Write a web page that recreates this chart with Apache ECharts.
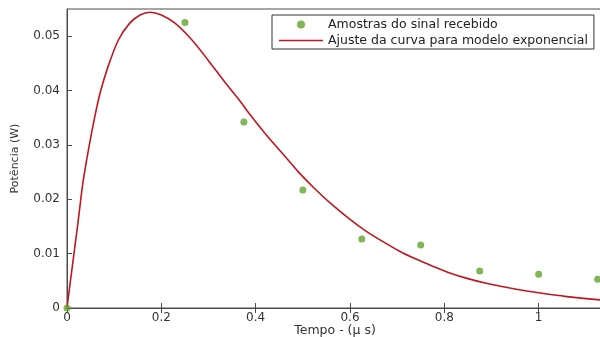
<!DOCTYPE html>
<html><head><meta charset="utf-8">
<script src="https://cdn.jsdelivr.net/npm/echarts@6/dist/echarts.min.js"></script>
<style>html,body{margin:0;padding:0;background:#fff;overflow:hidden}#c{width:640px;height:337px}</style>
</head><body><div id="c"></div>
<script>
// sample times (µs) and received powers (W)
var sampleT = [0, 0.25, 0.375, 0.5, 0.625, 0.75, 0.875, 1.0, 1.125];
var sampleP = [0, 0.0525, 0.0342, 0.0217, 0.0127, 0.0116, 0.0068, 0.0062, 0.0053];
// fitted curve
var fitT = [0, 0.007, 0.013, 0.023, 0.034, 0.048, 0.059, 0.07, 0.087, 0.109, 0.133, 0.155, 0.176, 0.2, 0.229, 0.265, 0.3, 0.336, 0.364, 0.385, 0.42, 0.456, 0.491, 0.527, 0.562, 0.6, 0.633, 0.67, 0.704, 0.74, 0.775, 0.81, 0.85, 0.896, 0.95, 1.0, 1.06, 1.13, 1.2];
var fitP = [0, 0.0048, 0.0088, 0.0155, 0.0232, 0.0303, 0.0352, 0.0395, 0.0444, 0.0493, 0.0524, 0.0539, 0.0544, 0.0539, 0.0524, 0.0493, 0.0455, 0.0414, 0.0384, 0.0359, 0.0321, 0.0285, 0.0250, 0.0218, 0.0190, 0.0163, 0.0142, 0.0122, 0.0105, 0.0090, 0.0077, 0.0065, 0.0054, 0.0044, 0.0035, 0.0028, 0.0021, 0.0015, 0.0011];
var xTicks = {min: 0, max: 1.2, interval: 0.2};
var yTicks = {min: 0, max: 0.055, interval: 0.01};
var seriesNames = ['Amostras do sinal recebido', 'Ajuste da curva para modelo exponencial'];

function pairs(a, b) { return a.map(function (v, i) { return [v, b[i]]; }); }

var axisColor = '#4a4a4a';
var font = 'DejaVu Sans';
var green = '#62a32c';
var red = '#c01620';
var chart = echarts.init(document.getElementById('c'));
chart.setOption({
  animation: false,
  backgroundColor: '#fff',
  grid: {left: 67, right: 7, top: 9, bottom: 29, show: true, borderColor: axisColor, borderWidth: 1,
    outerBoundsMode: 'none', containLabel: false},
  legend: {
    orient: 'vertical', left: 272, top: 15, padding: [3, 6, 2, 7],
    borderColor: '#333', borderWidth: 1, backgroundColor: '#fff',
    itemWidth: 44, itemHeight: 8, itemGap: 3,
    textStyle: {fontFamily: font, fontSize: 12.5, color: '#222'},
    data: [
      {name: seriesNames[0], icon: 'circle', itemStyle: {color: green}},
      {name: seriesNames[1], icon: 'path://M0,0 L0.01,0 L0.01,0.01 Z M0,3.3 L44,3.3 L44,4.8 L0,4.8 Z M0,8 L0.01,8 L0.01,7.99 Z', itemStyle: {color: red}}
    ]
  },
  xAxis: [{
    type: 'value', min: xTicks.min, max: xTicks.max, interval: xTicks.interval,
    name: 'Tempo - (µ s)', nameLocation: 'middle', nameGap: 16, nameMoveOverlap: false,
    nameTextStyle: {fontFamily: font, fontSize: 12.5, color: '#333', padding: [0, 30, 0, 0]},
    axisLine: {show: true, onZero: false, lineStyle: {color: axisColor}},
    axisTick: {show: true, inside: true, length: 5, lineStyle: {color: axisColor}},
    axisLabel: {fontFamily: font, fontSize: 12, color: '#333', margin: 4,
      formatter: function (v) { return String(+v.toFixed(2)); }},
    splitLine: {show: false}
  }, {
    type: 'value', position: 'top', min: xTicks.min, max: xTicks.max, interval: xTicks.interval,
    axisLine: {show: true, lineStyle: {color: axisColor}},
    axisTick: {show: true, inside: true, length: 5, lineStyle: {color: axisColor}},
    axisLabel: {show: false}, splitLine: {show: false}
  }],
  yAxis: [{
    type: 'value', min: yTicks.min, max: yTicks.max, interval: yTicks.interval,
    name: 'Potência (W)', nameLocation: 'middle', nameGap: 46, nameMoveOverlap: false,
    nameTextStyle: {fontFamily: font, fontSize: 11, color: '#333'},
    axisLine: {show: true, onZero: false, lineStyle: {color: axisColor}},
    axisTick: {show: true, inside: true, length: 5, lineStyle: {color: axisColor}},
    axisLabel: {fontFamily: font, fontSize: 12, color: '#333', margin: 7,
      showMaxLabel: false,
      formatter: function (v) { return String(+v.toFixed(3)); }},
    splitLine: {show: false}
  }],
  series: [{
    name: seriesNames[0], type: 'scatter', symbol: 'circle', symbolSize: 7,
    itemStyle: {color: green}, z: 3,
    data: pairs(sampleT, sampleP)
  }, {
    name: seriesNames[1], type: 'line', smooth: 0.3, showSymbol: false, symbol: 'none',
    lineStyle: {color: red, width: 1.6}, itemStyle: {color: red}, z: 2,
    data: pairs(fitT, fitP)
  }]
});
</script></body></html>
